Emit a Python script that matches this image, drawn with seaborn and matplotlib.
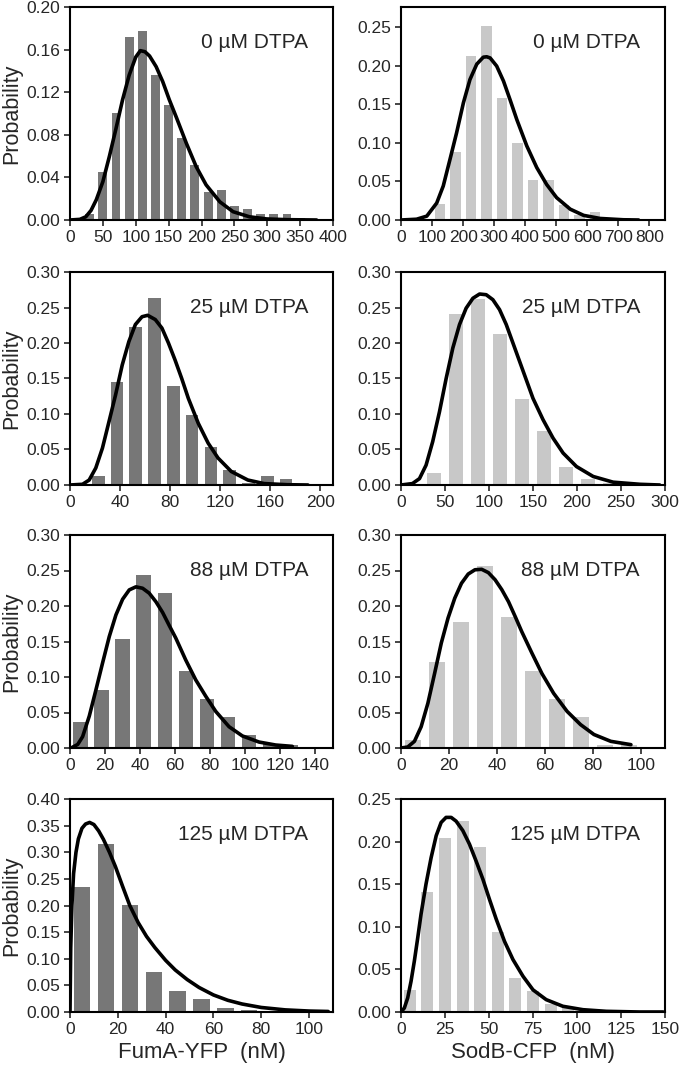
import numpy as np
import pandas as pd
import matplotlib.pyplot as plt
import seaborn as sns

sns.set_style("ticks")
plt.rcParams['font.family'] = ['Liberation Sans', 'DejaVu Sans']

# ---- FumA-YFP (left column): bin centres, probabilities, fitted curve ----
fuma0_x = [30, 50, 70, 90, 110, 130, 150, 170, 190, 210, 230, 250, 270, 290, 310, 330, 350]
fuma0_p = [0.006, 0.045, 0.100, 0.172, 0.177, 0.136, 0.108, 0.077, 0.052, 0.026, 0.028,
           0.0135, 0.010, 0.0056, 0.0056, 0.0056, 0.0016]
fuma0_fx = [0, 15, 24, 32, 40, 50, 60, 70, 80, 90, 100, 107, 114, 121, 131, 141, 151, 162,
            177, 192, 207, 228, 248, 273, 299, 330, 375]
fuma0_fy = [0, 0.0006, 0.003, 0.009, 0.019, 0.036, 0.060, 0.086, 0.113, 0.136, 0.153, 0.159,
            0.158, 0.154, 0.144, 0.130, 0.113, 0.096, 0.072, 0.050, 0.033, 0.017, 0.0078,
            0.003, 0.001, 0.0003, 0.0]

fuma25_x = [22.5, 37.5, 52.5, 67.5, 82.5, 97.5, 112.5, 127.5, 142.5, 157.5, 172.5, 187.5]
fuma25_p = [0.0127, 0.145, 0.2225, 0.263, 0.140, 0.099, 0.054, 0.021, 0.003, 0.013, 0.008, 0.002]
fuma25_fx = [0, 10, 15.3, 20.6, 25.9, 31.1, 36.4, 41.7, 47, 52.2, 57.5, 62, 68.1, 73.4, 78.6,
             83.9, 89.2, 94.5, 102.4, 110.3, 118.2, 128.8, 142, 155, 173.6, 190]
fuma25_fy = [0, 0.001, 0.007, 0.024, 0.052, 0.089, 0.127, 0.169, 0.202, 0.226, 0.237, 0.239,
             0.233, 0.221, 0.200, 0.176, 0.150, 0.122, 0.087, 0.059, 0.038, 0.019, 0.007,
             0.002, 0.0004, 0.0]

fuma88_x = [6, 18, 30, 42, 54, 66, 78, 90, 102, 114, 126]
fuma88_p = [0.0366, 0.082, 0.153, 0.243, 0.218, 0.108, 0.069, 0.043, 0.018, 0.005, 0.004]
fuma88_fx = [0.6, 4.4, 7.2, 11, 14.8, 18.6, 22.4, 26.2, 30, 33.8, 37.6, 41.4, 45.2, 49, 52.8,
             56.5, 60.3, 66, 71.7, 77.4, 83.1, 90.7, 98.3, 107.8, 117.3, 126.8]
fuma88_fy = [0, 0.005, 0.016, 0.045, 0.082, 0.120, 0.157, 0.1875, 0.2095, 0.2227, 0.227,
             0.225, 0.218, 0.206, 0.191, 0.173, 0.155, 0.124, 0.096, 0.073, 0.0516, 0.030,
             0.017, 0.0084, 0.0042, 0.0023]

fuma125_x = [5, 15, 25, 35, 45, 55, 65, 75, 85, 95, 105]
fuma125_p = [0.235, 0.315, 0.201, 0.075, 0.040, 0.025, 0.0075, 0.004, 0.002, 0.0015, 0.001]
fuma125_fx = [0, 0.3, 0.8, 1.5, 2.5, 3.5, 5, 6.5, 8.2, 10, 12, 14, 16.5, 19, 22, 25, 28.5, 32,
              35.5, 40, 44, 49, 54, 60, 66, 72, 80, 90, 100, 108]
fuma125_fy = [0.0, 0.12, 0.20, 0.26, 0.30, 0.325, 0.345, 0.353, 0.356, 0.352, 0.34, 0.324,
              0.30, 0.273, 0.236, 0.20, 0.168, 0.142, 0.121, 0.097, 0.079, 0.061, 0.046,
              0.032, 0.022, 0.015, 0.0085, 0.004, 0.0018, 0.001]

# ---- SodB-CFP (right column) ----
sodb0_x = [125, 175, 225, 275, 325, 375, 425, 475, 525, 575, 625, 675, 725]
sodb0_p = [0.021, 0.088, 0.213, 0.251, 0.158, 0.100, 0.052, 0.052, 0.020, 0.006, 0.011, 0.002, 0.002]
sodb0_fx = [0, 50, 83, 115, 136, 158, 179, 201, 222, 244, 265, 276, 287, 308, 330, 351, 373,
            405, 437, 469, 501, 545, 588, 641, 716, 765]
sodb0_fy = [0, 0.001, 0.005, 0.022, 0.044, 0.079, 0.113, 0.152, 0.182, 0.202, 0.211, 0.2115,
            0.210, 0.1995, 0.180, 0.156, 0.130, 0.096, 0.068, 0.046, 0.029, 0.014, 0.006,
            0.002, 0.0003, 0.0]

sodb25_x = [37.5, 62.5, 87.5, 112.5, 137.5, 162.5, 187.5, 212.5, 237.5, 262.5]
sodb25_p = [0.0165, 0.241, 0.262, 0.213, 0.121, 0.076, 0.026, 0.008, 0.003, 0.0015]
sodb25_fx = [0, 13, 21, 28.5, 36, 43.7, 51.3, 58.9, 66.5, 74, 81.7, 89.3, 96.8, 104.4, 112,
             119.6, 127.2, 134.8, 142.4, 150, 161.4, 172.8, 184.2, 199.4, 218.4, 241, 271.5, 294]
sodb25_fy = [0, 0.002, 0.009, 0.028, 0.061, 0.103, 0.150, 0.193, 0.226, 0.249, 0.263, 0.269,
             0.268, 0.261, 0.247, 0.226, 0.200, 0.174, 0.148, 0.122, 0.092, 0.066, 0.045,
             0.026, 0.012, 0.004, 0.001, 0.0]

sodb88_x = [5, 15, 25, 35, 45, 55, 65, 75, 85, 95]
sodb88_p = [0.011, 0.121, 0.178, 0.256, 0.184, 0.108, 0.069, 0.043, 0.0047, 0.0047]
sodb88_fx = [0, 2.8, 5.6, 8.4, 11.2, 14, 16.8, 19.6, 22.4, 25.2, 28, 30.8, 33.6, 36.4, 39.2,
             42, 44.8, 47.6, 50.3, 54.5, 58.7, 63.6, 69.2, 74.8, 80.4, 87.4, 95.8]
sodb88_fy = [0, 0.0014, 0.0094, 0.030, 0.063, 0.105, 0.148, 0.183, 0.211, 0.232, 0.245,
             0.251, 0.2517, 0.247, 0.237, 0.223, 0.206, 0.185, 0.164, 0.134, 0.105, 0.077,
             0.0516, 0.033, 0.019, 0.0094, 0.0047]

sodb125_x = [5, 15, 25, 35, 45, 55, 65, 75, 85, 95, 105, 115]
sodb125_p = [0.026, 0.141, 0.204, 0.224, 0.194, 0.094, 0.040, 0.025, 0.0098, 0.0043, 0.002, 0.001]
sodb125_fx = [0, 1.9, 3.8, 5.7, 7.6, 9.5, 11.4, 14.2, 17.1, 20, 22.8, 25.6, 28.5, 31.3, 35.1,
              38.9, 42.7, 46.5, 50.3, 54.1, 58.8, 63.6, 69.3, 75, 82.5, 92, 103.4, 116.7, 135.7, 149]
sodb125_fy = [0, 0.0047, 0.0165, 0.036, 0.060, 0.087, 0.115, 0.150, 0.181, 0.207, 0.2225,
              0.2284, 0.2284, 0.224, 0.213, 0.197, 0.177, 0.156, 0.132, 0.109, 0.083, 0.0616,
              0.042, 0.026, 0.0145, 0.0067, 0.0027, 0.0008, 0.0, 0.0]

dtpa_labels = ['0 µM DTPA', '25 µM DTPA', '88 µM DTPA', '125 µM DTPA']

# axis ranges and ticks (xmax, xstep, ymax, ystep)
fuma_axes = [(400, 50, 0.20, 0.04), (210, 40, 0.30, 0.05), (150, 20, 0.30, 0.05), (110, 20, 0.40, 0.05)]
sodb_axes = [(850, 100, 0.276, 0.05), (300, 50, 0.30, 0.05), (110, 20, 0.30, 0.05), (150, 25, 0.25, 0.05)]
fuma_tickmax = [400, 200, 140, 100]
sodb_tickmax = [800, 300, 100, 150]

fuma = [(fuma0_x, fuma0_p, fuma0_fx, fuma0_fy), (fuma25_x, fuma25_p, fuma25_fx, fuma25_fy),
        (fuma88_x, fuma88_p, fuma88_fx, fuma88_fy), (fuma125_x, fuma125_p, fuma125_fx, fuma125_fy)]
sodb = [(sodb0_x, sodb0_p, sodb0_fx, sodb0_fy), (sodb25_x, sodb25_p, sodb25_fx, sodb25_fy),
        (sodb88_x, sodb88_p, sodb88_fx, sodb88_fy), (sodb125_x, sodb125_p, sodb125_fx, sodb125_fy)]

W, H = 679, 1071
fig = plt.figure(figsize=(W / 100, H / 100), dpi=100)
col_left = [70, 401]
col_w = [263, 264]
row_top = [7, 272, 535, 799]
row_h = 213


def draw(ax, data, lims, tmax, color, label):
    x, p, fx, fy = data
    w = x[1] - x[0]
    df = pd.DataFrame({'x': x, 'p': p})
    sns.histplot(data=df, x='x', weights='p', binwidth=w,
                 binrange=(x[0] - w / 2, x[-1] + w / 2), shrink=0.68,
                 color=color, alpha=1, linewidth=0, ax=ax)
    sns.lineplot(x=fx, y=fy, color='black', lw=2.6, sort=False, estimator=None,
                 ax=ax, solid_capstyle='round', solid_joinstyle='round')
    xmax, xstep, ymax, ystep = lims
    ax.set_xlim(0, xmax)
    ax.set_ylim(0, ymax)
    ax.set_xticks(np.arange(0, tmax + 1e-9, xstep))
    ax.set_yticks(np.arange(0, ymax + 1e-9, ystep))
    ax.set_yticklabels(['%.2f' % v for v in ax.get_yticks()])
    ax.set_xticklabels(['%d' % v for v in ax.get_xticks()])
    ax.set_xlabel('')
    ax.set_ylabel('')
    ax.tick_params(labelsize=12.5, length=4, width=1.2, direction='out', pad=3)
    for s in ax.spines.values():
        s.set_linewidth(1.5)
        s.set_color('black')
    ax.text(0.905, 0.835, label, transform=ax.transAxes, ha='right', va='center', fontsize=15)


for r in range(4):
    for c, (data, lims, tmax, color) in enumerate([
            (fuma[r], fuma_axes[r], fuma_tickmax[r], '#777777'),
            (sodb[r], sodb_axes[r], sodb_tickmax[r], '#c8c8c8')]):
        ax = fig.add_axes([col_left[c] / W, 1 - (row_top[r] + row_h) / H, col_w[c] / W, row_h / H])
        draw(ax, data, lims, tmax, color, dtpa_labels[r])
        if c == 0:
            ax.set_ylabel('Probability', fontsize=15.5, labelpad=3)
        if r == 3:
            ax.set_xlabel('FumA-YFP  (nM)' if c == 0 else 'SodB-CFP  (nM)', fontsize=16, labelpad=4)

fig.savefig('out.png', dpi=100)
